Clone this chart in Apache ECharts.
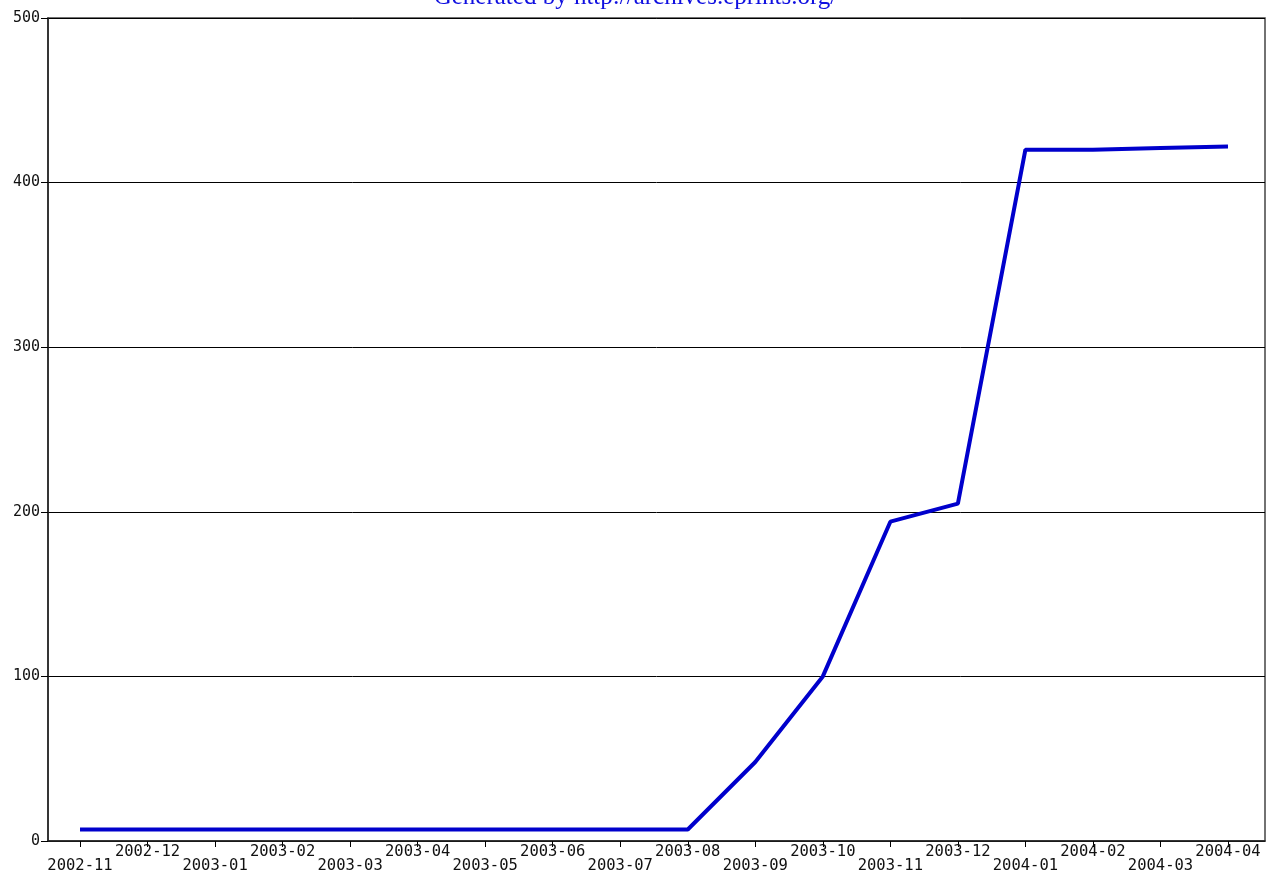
<!DOCTYPE html>
<html><head><meta charset="utf-8">
<script src="https://cdn.jsdelivr.net/npm/echarts@6/dist/echarts.min.js"></script>
<style>html,body{margin:0;padding:0;background:#fff}#c{width:1271px;height:876px}</style>
</head><body><div id="c"></div>
<script>
const months = ['2002-11','2002-12','2003-01','2003-02','2003-03','2003-04','2003-05','2003-06','2003-07','2003-08','2003-09','2003-10','2003-11','2003-12','2004-01','2004-02','2004-03','2004-04'];
const counts = [7,7,7,7,7,7,7,7,7,7,48,100,194,205,420,420,421,422];
const yTicks = [0,100,200,300,400,500];

const chart = echarts.init(document.getElementById('c'));
const idx = months.map((m,i)=>i);
chart.setOption({
  animation:false,
  title:{text:'Generated by http://archives.eprints.org/', left:'center', top:-20,
    textStyle:{fontFamily:'Liberation Serif', fontSize:25, fontWeight:'normal', color:'#1010e0'}},
  grid:{left:48, right:6, top:18, bottom:35, show:true, borderColor:'#444', borderWidth:1.5},
  xAxis:{type:'value', min:-0.474, max:17.548,
    axisLine:{show:true, onZero:false, lineStyle:{color:'#222', width:1.5}},
    axisTick:{show:true, length:6, customValues:idx, lineStyle:{color:'#000'}},
    axisLabel:{customValues:idx, margin:4, fontFamily:'DejaVu Sans Mono', fontSize:15.5, color:'#111', lineHeight:14,
      formatter:v=>{const i=Math.round(v); return i%2===1 ? months[i]+'\n ' : ' \n'+months[i];}},
    splitLine:{show:false}},
  yAxis:{type:'value', min:0, max:500, interval:100,
    axisLine:{show:true, onZero:false, lineStyle:{color:'#222', width:1.5}},
    axisTick:{show:true, length:7, lineStyle:{color:'#000'}},
    axisLabel:{margin:8, fontFamily:'DejaVu Sans Mono', fontSize:15, color:'#111',
      customValues:yTicks},
    splitLine:{show:true, lineStyle:{color:'#000', width:1}}},
  series:[{type:'line', data:counts.map((v,i)=>[i,v]), symbol:'none',
    lineStyle:{color:'#0000cc', width:4}}]
});
</script></body></html>
